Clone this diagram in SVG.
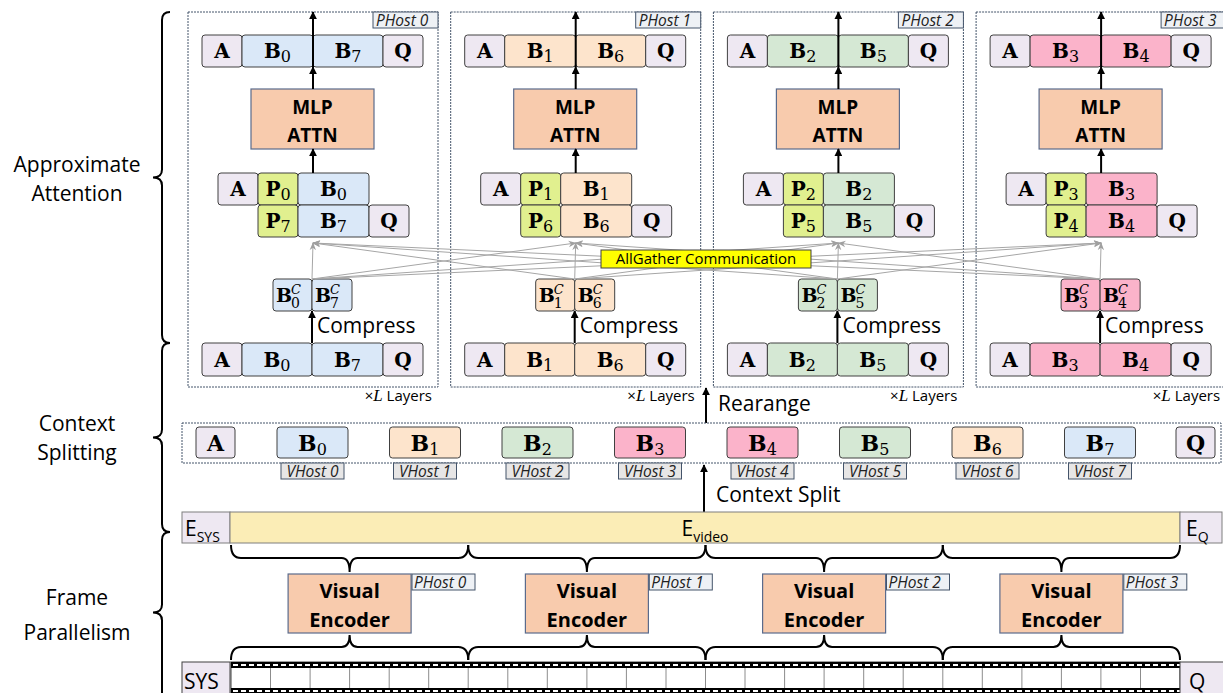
<svg xmlns="http://www.w3.org/2000/svg" width="1223" height="693" viewBox="0 0 1223 693">
<defs>
<marker id="ah" viewBox="0 0 10 10" refX="9" refY="5" markerWidth="8" markerHeight="8" markerUnits="userSpaceOnUse" orient="auto"><path d="M0,0 L10,5 L0,10 z" fill="#000"/></marker>
<marker id="ag" viewBox="0 0 10 10" refX="9" refY="5" markerWidth="8" markerHeight="8" markerUnits="userSpaceOnUse" orient="auto"><path d="M0,1 L10,5 L0,9 L3,5 z" fill="#A0A0A0"/></marker>
<style>
.aq{fill:#EEE8F2;stroke:#404040;stroke-width:1}
.c0{fill:#DAE8F8;stroke:#404040;stroke-width:1}
.c1{fill:#FDE4CC;stroke:#404040;stroke-width:1}
.c2{fill:#D5E8D4;stroke:#404040;stroke-width:1}
.c3{fill:#FBB3CA;stroke:#404040;stroke-width:1}
.pp{fill:#E1F08F;stroke:#404040;stroke-width:1}
.mlp{fill:#F8CBAD;stroke:#5A6B8C;stroke-width:1.2}
.panel{fill:none;stroke:#44546A;stroke-width:1;stroke-dasharray:2 1}
.ph{fill:#EEF1F5;stroke:#44546A;stroke-width:1}
.vh{fill:#E7E6E6;stroke:#44546A;stroke-width:1}
.sb{font-family:"DejaVu Serif","Liberation Serif",serif;font-weight:bold;font-size:20px;fill:#000}
.sbl{font-family:"DejaVu Serif","Liberation Serif",serif;font-weight:bold;font-size:22px;fill:#000}
.sd{font-family:"DejaVu Serif","Liberation Serif",serif;font-weight:normal;font-size:16px}
.sbc{font-family:"DejaVu Serif","Liberation Serif",serif;font-weight:bold;font-size:19px;fill:#000}
.sup{font-family:"DejaVu Serif","Liberation Serif",serif;font-style:italic;font-size:13px;fill:#000}
.sub{font-family:"DejaVu Serif","Liberation Serif",serif;font-size:14px;fill:#000}
.lab{font-family:"Open Sans",sans-serif;font-size:21px;fill:#000}
.bl{font-family:"Open Sans",sans-serif;font-size:19px;font-weight:bold;fill:#000;text-anchor:middle}
.ve{font-family:"Open Sans",sans-serif;font-size:20px;font-weight:bold;fill:#000;text-anchor:middle}
.tag{font-family:"Open Sans",sans-serif;font-size:15.5px;font-style:italic;fill:#222}
.sm{font-family:"Open Sans",sans-serif;font-size:15px;fill:#000}
.mid{text-anchor:middle}
.ar{stroke:#000;stroke-width:2;fill:none;marker-end:url(#ah)}
.gl{stroke:#A6A6A6;stroke-width:1;fill:none;marker-end:url(#ag)}
.br{stroke:#000;stroke-width:2;fill:none}
</style>
</defs>

<g id="side-labels">
<path class="br" d="M170,12 Q162,12 162,20 L162,169.5 Q162,177.5 153,177.5 Q162,177.5 162,185.5 L162,335 Q162,343 170,343"/>
<path class="br" d="M170,343 Q162,343 162,351 L162,429.5 Q162,437.5 153,437.5 Q162,437.5 162,445.5 L162,524 Q162,532 170,532"/>
<path class="br" d="M170,532 Q162,532 162,540 L162,604.5 Q162,612.5 153,612.5 Q162,612.5 162,620.5 L162,700"/>
<text class="lab mid" x="77" y="172">Approximate</text>
<text class="lab mid" x="77" y="201">Attention</text>
<text class="lab mid" x="77" y="431">Context</text>
<text class="lab mid" x="77" y="460">Splitting</text>
<text class="lab mid" x="77" y="605">Frame</text>
<text class="lab mid" x="77" y="640">Parallelism</text>
</g>

<g id="panel-0" transform="translate(0,0)">
<rect class="panel" x="188" y="12" width="250" height="375"/>
<rect class="ph" x="373" y="12" width="65" height="16"/><text class="tag" x="376" y="26">PHost 0</text>
<rect class="aq" x="202" y="35" width="40" height="32" rx="3"/><rect class="c0" x="242" y="35" width="71" height="32" rx="3"/><rect class="c0" x="313" y="35" width="70" height="32" rx="3"/><rect class="aq" x="383" y="35" width="40" height="32" rx="3"/>
<text class="sb mid" x="222" y="58">A</text><text class="sb mid" x="277.5" y="58">B<tspan class="sd" dy="4">0</tspan></text><text class="sb mid" x="348" y="58">B<tspan class="sd" dy="4">7</tspan></text><text class="sb mid" x="403" y="58">Q</text>
<rect class="mlp" x="251" y="89" width="123" height="60"/><text class="bl" x="312.5" y="114">MLP</text><text class="bl" x="312.5" y="142">ATTN</text>
<rect class="aq" x="218" y="173" width="40" height="32" rx="3"/><rect class="pp" x="258" y="173" width="40" height="32" rx="3"/><rect class="c0" x="298" y="173" width="71" height="32" rx="3"/>
<rect class="pp" x="258" y="205" width="40" height="32" rx="3"/><rect class="c0" x="298" y="205" width="71" height="32" rx="3"/><rect class="aq" x="369" y="205" width="40" height="32" rx="3"/>
<text class="sb mid" x="238" y="196">A</text><text class="sb mid" x="278" y="196">P<tspan class="sd" dy="4">0</tspan></text><text class="sb mid" x="333.5" y="196">B<tspan class="sd" dy="4">0</tspan></text>
<text class="sb mid" x="278" y="228">P<tspan class="sd" dy="4">7</tspan></text><text class="sb mid" x="333.5" y="228">B<tspan class="sd" dy="4">7</tspan></text><text class="sb mid" x="389" y="228">Q</text>
<rect class="c0" x="273" y="279" width="39" height="32" rx="3"/><rect class="c0" x="312" y="279" width="40" height="32" rx="3"/>
<text class="sbc" x="276" y="302">B</text><text class="sup" x="291" y="294">C</text><text class="sub" x="291" y="308">0</text>
<text class="sbc" x="315" y="302">B</text><text class="sup" x="330" y="294">C</text><text class="sub" x="330" y="308">7</text>
<text class="lab" x="317" y="333">Compress</text>
<rect class="aq" x="202" y="343" width="40" height="33" rx="3"/><rect class="c0" x="242" y="343" width="70" height="33" rx="3"/><rect class="c0" x="312" y="343" width="71" height="33" rx="3"/><rect class="aq" x="383" y="343" width="40" height="33" rx="3"/>
<text class="sb mid" x="222" y="367">A</text><text class="sb mid" x="277" y="367">B<tspan class="sd" dy="4">0</tspan></text><text class="sb mid" x="347.5" y="367">B<tspan class="sd" dy="4">7</tspan></text><text class="sb mid" x="403" y="367">Q</text>
<text class="sm" x="432" y="401" text-anchor="end">×<tspan font-family="Liberation Serif" font-style="italic" font-size="17">L</tspan> Layers</text>
<line class="ar" x1="313" y1="89" x2="313" y2="67"/><line class="ar" x1="313" y1="67" x2="313" y2="12"/><line class="ar" x1="313" y1="173" x2="313" y2="149"/><line class="ar" x1="312" y1="343" x2="312" y2="311"/>
</g>

<g id="panel-1" transform="translate(262.7,0)">
<rect class="panel" x="188" y="12" width="250" height="375"/>
<rect class="ph" x="373" y="12" width="65" height="16"/><text class="tag" x="376" y="26">PHost 1</text>
<rect class="aq" x="202" y="35" width="40" height="32" rx="3"/><rect class="c1" x="242" y="35" width="71" height="32" rx="3"/><rect class="c1" x="313" y="35" width="70" height="32" rx="3"/><rect class="aq" x="383" y="35" width="40" height="32" rx="3"/>
<text class="sb mid" x="222" y="58">A</text><text class="sb mid" x="277.5" y="58">B<tspan class="sd" dy="4">1</tspan></text><text class="sb mid" x="348" y="58">B<tspan class="sd" dy="4">6</tspan></text><text class="sb mid" x="403" y="58">Q</text>
<rect class="mlp" x="251" y="89" width="123" height="60"/><text class="bl" x="312.5" y="114">MLP</text><text class="bl" x="312.5" y="142">ATTN</text>
<rect class="aq" x="218" y="173" width="40" height="32" rx="3"/><rect class="pp" x="258" y="173" width="40" height="32" rx="3"/><rect class="c1" x="298" y="173" width="71" height="32" rx="3"/>
<rect class="pp" x="258" y="205" width="40" height="32" rx="3"/><rect class="c1" x="298" y="205" width="71" height="32" rx="3"/><rect class="aq" x="369" y="205" width="40" height="32" rx="3"/>
<text class="sb mid" x="238" y="196">A</text><text class="sb mid" x="278" y="196">P<tspan class="sd" dy="4">1</tspan></text><text class="sb mid" x="333.5" y="196">B<tspan class="sd" dy="4">1</tspan></text>
<text class="sb mid" x="278" y="228">P<tspan class="sd" dy="4">6</tspan></text><text class="sb mid" x="333.5" y="228">B<tspan class="sd" dy="4">6</tspan></text><text class="sb mid" x="389" y="228">Q</text>
<rect class="c1" x="273" y="279" width="39" height="32" rx="3"/><rect class="c1" x="312" y="279" width="40" height="32" rx="3"/>
<text class="sbc" x="276" y="302">B</text><text class="sup" x="291" y="294">C</text><text class="sub" x="291" y="308">1</text>
<text class="sbc" x="315" y="302">B</text><text class="sup" x="330" y="294">C</text><text class="sub" x="330" y="308">6</text>
<text class="lab" x="317" y="333">Compress</text>
<rect class="aq" x="202" y="343" width="40" height="33" rx="3"/><rect class="c1" x="242" y="343" width="70" height="33" rx="3"/><rect class="c1" x="312" y="343" width="71" height="33" rx="3"/><rect class="aq" x="383" y="343" width="40" height="33" rx="3"/>
<text class="sb mid" x="222" y="367">A</text><text class="sb mid" x="277" y="367">B<tspan class="sd" dy="4">1</tspan></text><text class="sb mid" x="347.5" y="367">B<tspan class="sd" dy="4">6</tspan></text><text class="sb mid" x="403" y="367">Q</text>
<text class="sm" x="432" y="401" text-anchor="end">×<tspan font-family="Liberation Serif" font-style="italic" font-size="17">L</tspan> Layers</text>
<line class="ar" x1="313" y1="89" x2="313" y2="67"/><line class="ar" x1="313" y1="67" x2="313" y2="12"/><line class="ar" x1="313" y1="173" x2="313" y2="149"/><line class="ar" x1="312" y1="343" x2="312" y2="311"/>
</g>

<g id="panel-2" transform="translate(525.4,0)">
<rect class="panel" x="188" y="12" width="250" height="375"/>
<rect class="ph" x="373" y="12" width="65" height="16"/><text class="tag" x="376" y="26">PHost 2</text>
<rect class="aq" x="202" y="35" width="40" height="32" rx="3"/><rect class="c2" x="242" y="35" width="71" height="32" rx="3"/><rect class="c2" x="313" y="35" width="70" height="32" rx="3"/><rect class="aq" x="383" y="35" width="40" height="32" rx="3"/>
<text class="sb mid" x="222" y="58">A</text><text class="sb mid" x="277.5" y="58">B<tspan class="sd" dy="4">2</tspan></text><text class="sb mid" x="348" y="58">B<tspan class="sd" dy="4">5</tspan></text><text class="sb mid" x="403" y="58">Q</text>
<rect class="mlp" x="251" y="89" width="123" height="60"/><text class="bl" x="312.5" y="114">MLP</text><text class="bl" x="312.5" y="142">ATTN</text>
<rect class="aq" x="218" y="173" width="40" height="32" rx="3"/><rect class="pp" x="258" y="173" width="40" height="32" rx="3"/><rect class="c2" x="298" y="173" width="71" height="32" rx="3"/>
<rect class="pp" x="258" y="205" width="40" height="32" rx="3"/><rect class="c2" x="298" y="205" width="71" height="32" rx="3"/><rect class="aq" x="369" y="205" width="40" height="32" rx="3"/>
<text class="sb mid" x="238" y="196">A</text><text class="sb mid" x="278" y="196">P<tspan class="sd" dy="4">2</tspan></text><text class="sb mid" x="333.5" y="196">B<tspan class="sd" dy="4">2</tspan></text>
<text class="sb mid" x="278" y="228">P<tspan class="sd" dy="4">5</tspan></text><text class="sb mid" x="333.5" y="228">B<tspan class="sd" dy="4">5</tspan></text><text class="sb mid" x="389" y="228">Q</text>
<rect class="c2" x="273" y="279" width="39" height="32" rx="3"/><rect class="c2" x="312" y="279" width="40" height="32" rx="3"/>
<text class="sbc" x="276" y="302">B</text><text class="sup" x="291" y="294">C</text><text class="sub" x="291" y="308">2</text>
<text class="sbc" x="315" y="302">B</text><text class="sup" x="330" y="294">C</text><text class="sub" x="330" y="308">5</text>
<text class="lab" x="317" y="333">Compress</text>
<rect class="aq" x="202" y="343" width="40" height="33" rx="3"/><rect class="c2" x="242" y="343" width="70" height="33" rx="3"/><rect class="c2" x="312" y="343" width="71" height="33" rx="3"/><rect class="aq" x="383" y="343" width="40" height="33" rx="3"/>
<text class="sb mid" x="222" y="367">A</text><text class="sb mid" x="277" y="367">B<tspan class="sd" dy="4">2</tspan></text><text class="sb mid" x="347.5" y="367">B<tspan class="sd" dy="4">5</tspan></text><text class="sb mid" x="403" y="367">Q</text>
<text class="sm" x="432" y="401" text-anchor="end">×<tspan font-family="Liberation Serif" font-style="italic" font-size="17">L</tspan> Layers</text>
<line class="ar" x1="313" y1="89" x2="313" y2="67"/><line class="ar" x1="313" y1="67" x2="313" y2="12"/><line class="ar" x1="313" y1="173" x2="313" y2="149"/><line class="ar" x1="312" y1="343" x2="312" y2="311"/>
</g>

<g id="panel-3" transform="translate(788.1,0)">
<rect class="panel" x="188" y="12" width="250" height="375"/>
<rect class="ph" x="373" y="12" width="65" height="16"/><text class="tag" x="376" y="26">PHost 3</text>
<rect class="aq" x="202" y="35" width="40" height="32" rx="3"/><rect class="c3" x="242" y="35" width="71" height="32" rx="3"/><rect class="c3" x="313" y="35" width="70" height="32" rx="3"/><rect class="aq" x="383" y="35" width="40" height="32" rx="3"/>
<text class="sb mid" x="222" y="58">A</text><text class="sb mid" x="277.5" y="58">B<tspan class="sd" dy="4">3</tspan></text><text class="sb mid" x="348" y="58">B<tspan class="sd" dy="4">4</tspan></text><text class="sb mid" x="403" y="58">Q</text>
<rect class="mlp" x="251" y="89" width="123" height="60"/><text class="bl" x="312.5" y="114">MLP</text><text class="bl" x="312.5" y="142">ATTN</text>
<rect class="aq" x="218" y="173" width="40" height="32" rx="3"/><rect class="pp" x="258" y="173" width="40" height="32" rx="3"/><rect class="c3" x="298" y="173" width="71" height="32" rx="3"/>
<rect class="pp" x="258" y="205" width="40" height="32" rx="3"/><rect class="c3" x="298" y="205" width="71" height="32" rx="3"/><rect class="aq" x="369" y="205" width="40" height="32" rx="3"/>
<text class="sb mid" x="238" y="196">A</text><text class="sb mid" x="278" y="196">P<tspan class="sd" dy="4">3</tspan></text><text class="sb mid" x="333.5" y="196">B<tspan class="sd" dy="4">3</tspan></text>
<text class="sb mid" x="278" y="228">P<tspan class="sd" dy="4">4</tspan></text><text class="sb mid" x="333.5" y="228">B<tspan class="sd" dy="4">4</tspan></text><text class="sb mid" x="389" y="228">Q</text>
<rect class="c3" x="273" y="279" width="39" height="32" rx="3"/><rect class="c3" x="312" y="279" width="40" height="32" rx="3"/>
<text class="sbc" x="276" y="302">B</text><text class="sup" x="291" y="294">C</text><text class="sub" x="291" y="308">3</text>
<text class="sbc" x="315" y="302">B</text><text class="sup" x="330" y="294">C</text><text class="sub" x="330" y="308">4</text>
<text class="lab" x="317" y="333">Compress</text>
<rect class="aq" x="202" y="343" width="40" height="33" rx="3"/><rect class="c3" x="242" y="343" width="70" height="33" rx="3"/><rect class="c3" x="312" y="343" width="71" height="33" rx="3"/><rect class="aq" x="383" y="343" width="40" height="33" rx="3"/>
<text class="sb mid" x="222" y="367">A</text><text class="sb mid" x="277" y="367">B<tspan class="sd" dy="4">3</tspan></text><text class="sb mid" x="347.5" y="367">B<tspan class="sd" dy="4">4</tspan></text><text class="sb mid" x="403" y="367">Q</text>
<text class="sm" x="432" y="401" text-anchor="end">×<tspan font-family="Liberation Serif" font-style="italic" font-size="17">L</tspan> Layers</text>
<line class="ar" x1="313" y1="89" x2="313" y2="67"/><line class="ar" x1="313" y1="67" x2="313" y2="12"/><line class="ar" x1="313" y1="173" x2="313" y2="149"/><line class="ar" x1="312" y1="343" x2="312" y2="311"/>
</g>

<g id="connectors">
<line class="gl" x1="312" y1="279" x2="313" y2="243"/>
<line class="gl" x1="312" y1="279" x2="575.7" y2="243"/>
<line class="gl" x1="312" y1="279" x2="838.4" y2="243"/>
<line class="gl" x1="312" y1="279" x2="1101.1" y2="243"/>
<line class="gl" x1="574.7" y1="279" x2="313" y2="243"/>
<line class="gl" x1="574.7" y1="279" x2="575.7" y2="243"/>
<line class="gl" x1="574.7" y1="279" x2="838.4" y2="243"/>
<line class="gl" x1="574.7" y1="279" x2="1101.1" y2="243"/>
<line class="gl" x1="837.4" y1="279" x2="313" y2="243"/>
<line class="gl" x1="837.4" y1="279" x2="575.7" y2="243"/>
<line class="gl" x1="837.4" y1="279" x2="838.4" y2="243"/>
<line class="gl" x1="837.4" y1="279" x2="1101.1" y2="243"/>
<line class="gl" x1="1100.1" y1="279" x2="313" y2="243"/>
<line class="gl" x1="1100.1" y1="279" x2="575.7" y2="243"/>
<line class="gl" x1="1100.1" y1="279" x2="838.4" y2="243"/>
<line class="gl" x1="1100.1" y1="279" x2="1101.1" y2="243"/>
<line class="ar" x1="706" y1="423" x2="706" y2="388"/>
<line class="ar" x1="704" y1="512" x2="704" y2="465"/>
<path class="br" d="M231,545 Q231,558 241,558 L341.6,558 Q349.6,558 349.6,572 Q349.6,558 357.6,558 L458.2,558 Q468.2,558 468.2,545"/>
<path class="br" d="M468.2,545 Q468.2,558 478.2,558 L578.9,558 Q586.9,558 586.9,572 Q586.9,558 594.9,558 L695.5,558 Q705.5,558 705.5,545"/>
<path class="br" d="M705.5,545 Q705.5,558 715.5,558 L816.1,558 Q824.1,558 824.1,572 Q824.1,558 832.1,558 L932.8,558 Q942.8,558 942.8,545"/>
<path class="br" d="M942.8,545 Q942.8,558 952.8,558 L1053.4,558 Q1061.4,558 1061.4,572 Q1061.4,558 1069.4,558 L1170,558 Q1180,558 1180,545"/>
<path class="br" d="M231,660 Q231,647 241,647 L341.6,647 Q349.6,647 349.6,635 Q349.6,647 357.6,647 L458.2,647 Q468.2,647 468.2,660"/>
<path class="br" d="M468.2,660 Q468.2,647 478.2,647 L578.9,647 Q586.9,647 586.9,635 Q586.9,647 594.9,647 L695.5,647 Q705.5,647 705.5,660"/>
<path class="br" d="M705.5,660 Q705.5,647 715.5,647 L816.1,647 Q824.1,647 824.1,635 Q824.1,647 832.1,647 L932.8,647 Q942.8,647 942.8,660"/>
<path class="br" d="M942.8,660 Q942.8,647 952.8,647 L1053.4,647 Q1061.4,647 1061.4,635 Q1061.4,647 1069.4,647 L1170,647 Q1180,647 1180,660"/>
</g>

<g id="allgather">
<rect x="601" y="250" width="210" height="18" fill="#FFFF00" stroke="#404040" stroke-width="1"/>
<text class="sm mid" x="706" y="264" font-size="15.5">AllGather Communication</text>
</g>

<g id="labels-arrows">
<text class="lab" x="718" y="411">Rearange</text>
<text class="lab" x="716" y="502">Context Split</text>
</g>

<g id="context-row">
<rect class="panel" x="182" y="423" width="1039" height="40"/>
<rect class="aq" x="196" y="427" width="39" height="31" rx="3"/><text class="sbl mid" x="215.5" y="451">A</text>
<rect class="c0" x="277" y="427" width="71" height="31" rx="3"/><text class="sbl mid" x="312.5" y="451">B<tspan class="sd" font-size="17" dy="4">0</tspan></text>
<rect class="c1" x="389.5" y="427" width="71" height="31" rx="3"/><text class="sbl mid" x="425" y="451">B<tspan class="sd" font-size="17" dy="4">1</tspan></text>
<rect class="c2" x="502" y="427" width="71" height="31" rx="3"/><text class="sbl mid" x="537.5" y="451">B<tspan class="sd" font-size="17" dy="4">2</tspan></text>
<rect class="c3" x="614.5" y="427" width="71" height="31" rx="3"/><text class="sbl mid" x="650" y="451">B<tspan class="sd" font-size="17" dy="4">3</tspan></text>
<rect class="c3" x="727" y="427" width="71" height="31" rx="3"/><text class="sbl mid" x="762.5" y="451">B<tspan class="sd" font-size="17" dy="4">4</tspan></text>
<rect class="c2" x="839.5" y="427" width="71" height="31" rx="3"/><text class="sbl mid" x="875" y="451">B<tspan class="sd" font-size="17" dy="4">5</tspan></text>
<rect class="c1" x="952" y="427" width="71" height="31" rx="3"/><text class="sbl mid" x="987.5" y="451">B<tspan class="sd" font-size="17" dy="4">6</tspan></text>
<rect class="c0" x="1064.5" y="427" width="71" height="31" rx="3"/><text class="sbl mid" x="1100" y="451">B<tspan class="sd" font-size="17" dy="4">7</tspan></text>
<rect class="aq" x="1176" y="427" width="39" height="31" rx="3"/><text class="sbl mid" x="1195.5" y="451">Q</text>
<rect class="vh" x="281" y="463" width="63" height="16"/><text class="tag mid" x="312.5" y="477">VHost 0</text>
<rect class="vh" x="393.5" y="463" width="63" height="16"/><text class="tag mid" x="425" y="477">VHost 1</text>
<rect class="vh" x="506" y="463" width="63" height="16"/><text class="tag mid" x="537.5" y="477">VHost 2</text>
<rect class="vh" x="618.5" y="463" width="63" height="16"/><text class="tag mid" x="650" y="477">VHost 3</text>
<rect class="vh" x="731" y="463" width="63" height="16"/><text class="tag mid" x="762.5" y="477">VHost 4</text>
<rect class="vh" x="843.5" y="463" width="63" height="16"/><text class="tag mid" x="875" y="477">VHost 5</text>
<rect class="vh" x="956" y="463" width="63" height="16"/><text class="tag mid" x="987.5" y="477">VHost 6</text>
<rect class="vh" x="1068.5" y="463" width="63" height="16"/><text class="tag mid" x="1100" y="477">VHost 7</text>
</g>

<g id="embedding-bar">
<rect x="182" y="512" width="48" height="31" fill="#EEE8F2" stroke="#7F7F7F"/>
<rect x="230" y="512" width="950" height="31" fill="#FBEDB6" stroke="#7F7F7F"/>
<rect x="1180" y="512" width="42" height="31" fill="#EEE8F2" stroke="#7F7F7F"/>
<text class="lab" x="185" y="536" font-size="22">E<tspan font-size="14" dy="6">SYS</tspan></text>
<text class="lab mid" x="705" y="536" font-size="22">E<tspan font-size="14" dy="6">video</tspan></text>
<text class="lab" x="1186" y="536" font-size="22">E<tspan font-size="14" dy="6">Q</tspan></text>
</g>

<g id="encoder-0">
<rect class="mlp" x="288.1" y="574" width="123" height="59"/><text class="ve" x="349.6" y="598">Visual</text><text class="ve" x="349.6" y="627">Encoder</text>
<rect class="ph" x="412" y="574" width="63" height="16"/><text class="tag" x="414" y="588">PHost 0</text>
</g>
<g id="encoder-1">
<rect class="mlp" x="525.4" y="574" width="123" height="59"/><text class="ve" x="586.9" y="598">Visual</text><text class="ve" x="586.9" y="627">Encoder</text>
<rect class="ph" x="649.3" y="574" width="63" height="16"/><text class="tag" x="651.3" y="588">PHost 1</text>
</g>
<g id="encoder-2">
<rect class="mlp" x="762.6" y="574" width="123" height="59"/><text class="ve" x="824.1" y="598">Visual</text><text class="ve" x="824.1" y="627">Encoder</text>
<rect class="ph" x="886.5" y="574" width="63" height="16"/><text class="tag" x="888.5" y="588">PHost 2</text>
</g>
<g id="encoder-3">
<rect class="mlp" x="999.9" y="574" width="123" height="59"/><text class="ve" x="1061.4" y="598">Visual</text><text class="ve" x="1061.4" y="627">Encoder</text>
<rect class="ph" x="1123.8" y="574" width="63" height="16"/><text class="tag" x="1125.8" y="588">PHost 3</text>
</g>

<g id="film-strip">
<rect x="182" y="662" width="48" height="35" fill="#EEE8F2" stroke="#404040"/>
<text class="lab" x="184" y="689" font-size="22">SYS</text>
<rect x="231" y="662" width="949" height="35" fill="#FFFFFF" stroke="#404040"/>
<rect x="231" y="662" width="949" height="6" fill="#000"/>
<line x1="233" y1="665" x2="1180" y2="665" stroke="#FFF" stroke-width="2" stroke-dasharray="5 3"/>
<rect x="231" y="688" width="949" height="6" fill="#000"/>
<line x1="233" y1="691" x2="1180" y2="691" stroke="#FFF" stroke-width="2" stroke-dasharray="5 3"/>
<path stroke="#8C8C8C" stroke-width="1" fill="none" d="M270.5,668V688M310.1,668V688M349.6,668V688M389.2,668V688M428.7,668V688M468.2,668V688M507.8,668V688M547.3,668V688M586.9,668V688M626.4,668V688M666,668V688M705.5,668V688M745,668V688M784.6,668V688M824.1,668V688M863.7,668V688M903.2,668V688M942.8,668V688M982.3,668V688M1021.9,668V688M1061.4,668V688M1100.9,668V688M1140.5,668V688"/>
<rect x="1180" y="662" width="45" height="35" fill="#EEE8F2" stroke="#404040"/>
<text class="lab" x="1189" y="689" font-size="22">Q</text>
</g>
</svg>
